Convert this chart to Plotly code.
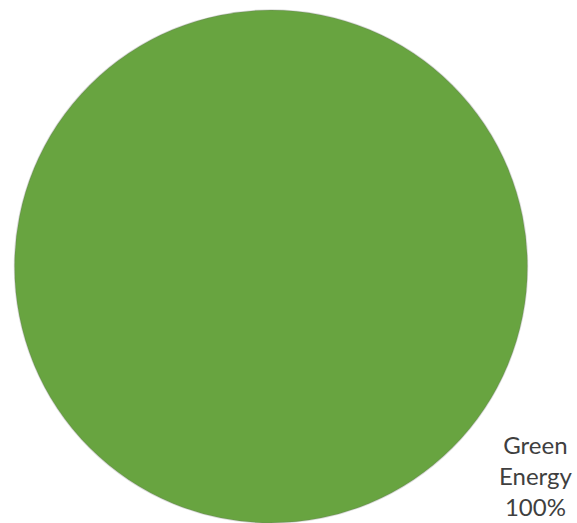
import plotly.graph_objects as go

# Energy mix share
labels = ["Green Energy"]
values = [100]
colors = ["#68A440"]

share = round(100 * values[0] / sum(values))
label_text = "<br>".join(labels[0].split(" ") + [f"{share}%"])

fig = go.Figure(
    go.Pie(
        labels=labels,
        values=values,
        marker=dict(colors=colors, line=dict(color="rgba(110,110,110,0.25)", width=1.5)),
        textinfo="none",
        sort=False,
        showlegend=False,
        hoverinfo="label+percent",
    )
)

fig.add_annotation(
    text=label_text,
    xref="paper",
    yref="paper",
    x=1.016,
    y=0.093,
    xanchor="center",
    yanchor="middle",
    showarrow=False,
    align="center",
    font=dict(family="Lato, Open Sans, sans-serif", size=24, color="#3f3f3f"),
)

fig.update_layout(
    width=577,
    height=523,
    margin=dict(l=14, r=49, t=10, b=0),
    paper_bgcolor="white",
    plot_bgcolor="white",
)

fig.write_html("out.html")
